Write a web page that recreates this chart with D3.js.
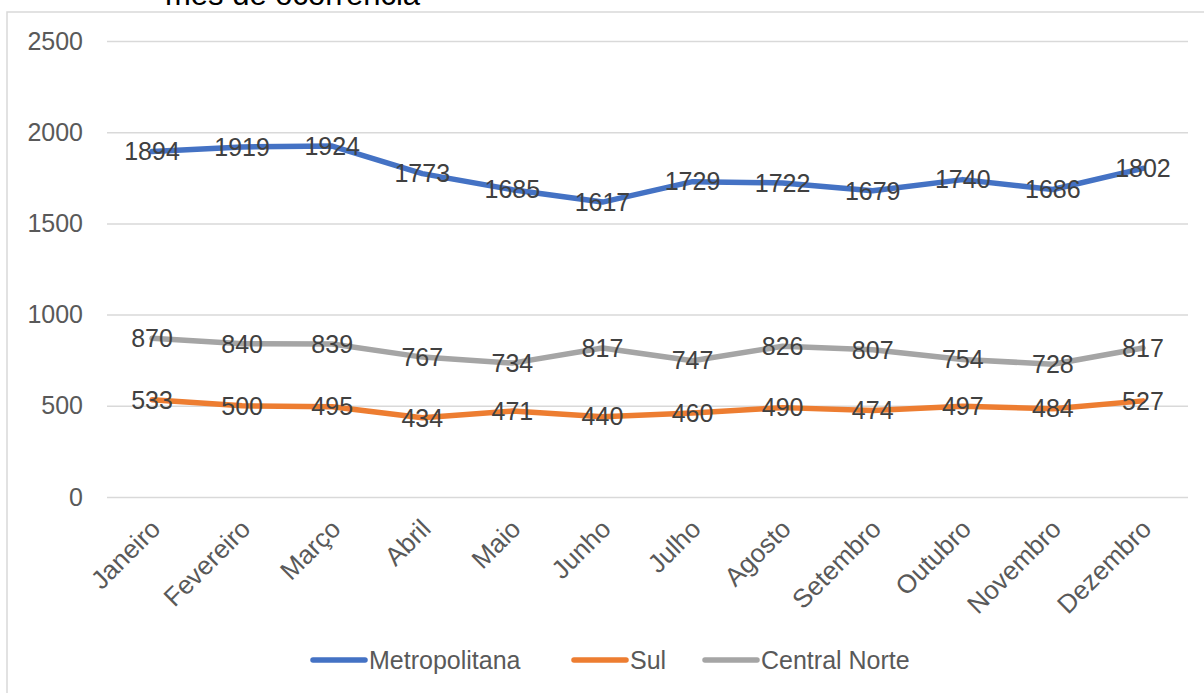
<!DOCTYPE html>
<html>
<head>
<meta charset="utf-8">
<script src="https://cdn.jsdelivr.net/npm/d3@7/dist/d3.min.js"></script>
<style>
  html, body { margin: 0; padding: 0; background: #fff; }
  svg { display: block; font-family: "Liberation Sans", Arial, sans-serif; }
</style>
</head>
<body>
<svg id="chart" width="1204" height="693"></svg>
<script>
const months = ["Janeiro","Fevereiro","Março","Abril","Maio","Junho","Julho","Agosto","Setembro","Outubro","Novembro","Dezembro"];
const seriesNames = ["Metropolitana","Sul","Central Norte"];
const metropolitana = [1894,1919,1924,1773,1685,1617,1729,1722,1679,1740,1686,1802];
const sul = [533,500,495,434,471,440,460,490,474,497,484,527];
const centralNorte = [870,840,839,767,734,817,747,826,807,754,728,817];
const yTicks = [0,500,1000,1500,2000,2500];
const titleText = "mês de ocorrência";

const colors = ["#4472C4","#ED7D31","#A5A5A5"];
const seriesData = [metropolitana, sul, centralNorte];

const svg = d3.select("#chart");

// outer chart border (partially off-canvas)
svg.append("rect")
  .attr("x", 7).attr("y", 12)
  .attr("width", 1300).attr("height", 800)
  .attr("fill", "#fff").attr("stroke", "#d9d9d9").attr("stroke-width", 1.5);

// partially visible title
svg.append("text")
  .attr("x", 165).attr("y", 5)
  .attr("font-size", 31).attr("fill", "#000")
  .text(titleText);

const x = d3.scalePoint().domain(months).range([107, 1188]).padding(0.5);
const y = d3.scaleLinear().domain([0, 2500]).range([497, 41]);

// gridlines
const yAxis = d3.axisLeft(y).tickValues(yTicks).tickSize(-(1188 - 107)).tickPadding(24).tickFormat(d3.format("d"));
const gy = svg.append("g").attr("transform", "translate(107,0)").call(yAxis);
gy.select(".domain").remove();
gy.selectAll(".tick line").attr("stroke", "#d9d9d9").attr("stroke-width", 1.5);
gy.selectAll(".tick text").attr("font-size", 25).attr("fill", "#595959")
  .attr("font-family", "'Liberation Sans', Arial, sans-serif");

// x axis labels
const xAxis = d3.axisBottom(x).tickSize(0).tickPadding(0);
const gx = svg.append("g").attr("transform", "translate(0,497)").call(xAxis);
gx.select(".domain").remove();
gx.selectAll(".tick text")
  .attr("font-size", 26).attr("fill", "#595959")
  .attr("font-family", "'Liberation Sans', Arial, sans-serif")
  .attr("text-anchor", "end")
  .attr("dy", "0.35em")
  .attr("y", 0)
  .attr("transform", "translate(3,27) rotate(-45)");

// lines
const line = d3.line().x((d, i) => x(months[i])).y(d => y(d));
seriesData.forEach((data, s) => {
  svg.append("path")
    .datum(data)
    .attr("d", line)
    .attr("fill", "none")
    .attr("stroke", colors[s])
    .attr("stroke-width", 5.5)
    .attr("stroke-linejoin", "round")
    .attr("stroke-linecap", "round");
});

// data labels
seriesData.forEach((data, s) => {
  svg.append("g").selectAll("text")
    .data(data)
    .join("text")
    .attr("x", (d, i) => x(months[i]))
    .attr("y", d => y(d))
    .attr("dy", "0.35em")
    .attr("text-anchor", "middle")
    .attr("font-size", 25)
    .attr("fill", "#404040")
    .text(d => d);
});

// legend
const legendItems = [
  {name: seriesNames[0], x: 311},
  {name: seriesNames[1], x: 572},
  {name: seriesNames[2], x: 703}
];
const legendY = 660;
const lg = svg.append("g");
legendItems.forEach((it, s) => {
  lg.append("line")
    .attr("x1", it.x + 2).attr("x2", it.x + 54)
    .attr("y1", legendY).attr("y2", legendY)
    .attr("stroke", colors[s]).attr("stroke-width", 5.5)
    .attr("stroke-linecap", "round");
  lg.append("text")
    .attr("x", it.x + 58).attr("y", legendY)
    .attr("dy", "0.35em")
    .attr("font-size", 25).attr("fill", "#595959")
    .text(it.name);
});
</script>
</body>
</html>
